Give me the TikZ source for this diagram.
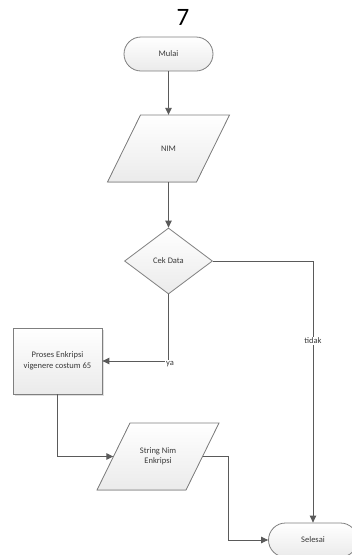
\documentclass[tikz,border=0pt]{standalone}
\usepackage{fontspec}
\setmainfont{Carlito}
\usetikzlibrary{arrows.meta,shapes.geometric,calc,shadows}
\definecolor{edgec}{HTML}{5A5A5A}
\definecolor{bordc}{HTML}{7F7F7F}
\definecolor{txtc}{HTML}{3A3A3A}
\begin{document}
\begin{tikzpicture}[x=1pt,y=-1pt,
  every node/.style={font=\fontsize{8.5}{10.5}\selectfont, text=txtc},
  shapefill/.style={top color=white, bottom color=gray!16, draw=bordc, line width=0.8pt},
  term/.style={shapefill, rectangle, rounded corners=17pt, minimum width=89pt, minimum height=34pt, inner sep=0pt},
  procbox/.style={shapefill, rectangle, minimum width=89pt, minimum height=66pt, inner sep=0pt, align=center, drop shadow={opacity=0.25, shadow xshift=1.5pt, shadow yshift=-1.5pt}},
  decide/.style={shapefill, diamond, minimum width=88pt, minimum height=66pt, inner sep=0pt},
  ioslot/.style={rectangle, minimum width=89pt, minimum height=67pt, inner sep=0pt, align=center},
  conn/.style={draw=edgec, line width=0.9pt, -{Triangle[length=7pt,width=6.5pt]}},
  line/.style={draw=edgec, line width=0.9pt},
  lbl/.style={fill=white, inner sep=1pt}
]
\useasboundingbox (0,0) rectangle (352,555);
\clip (0,0) rectangle (352,555);

\node[font=\fontsize{25}{28}\selectfont, text=black] (title) at (183,17) {7};

\node[term] (mulai) at (168.5,54) {Mulai};

% NIM parallelogram
\coordinate (nimc) at (168.5,148.5);
\filldraw[shapefill] ($(nimc)+(-28,-33.5)$) -- ($(nimc)+(61,-33.5)$) -- ($(nimc)+(28,33.5)$) -- ($(nimc)+(-61,33.5)$) -- cycle;
\node[ioslot] (nim) at (nimc) {NIM};

\node[decide] (cek) at (168.5,261) {Cek Data};

\node[procbox] (proses) at (57.5,361) {Proses Enkripsi\\vigenere costum 65};

% String Nim Enkripsi parallelogram
\coordinate (strc) at (158,456.5);
\filldraw[shapefill] ($(strc)+(-28,-33.5)$) -- ($(strc)+(61,-33.5)$) -- ($(strc)+(28,33.5)$) -- ($(strc)+(-61,33.5)$) -- cycle;
\node[ioslot] (str) at (strc) {String Nim\\Enkripsi};

\node[term] (selesai) at (313,540) {Selesai};

\coordinate (tk) at (313,261);
\coordinate (sk) at (228,456.5);
\coordinate (sk2) at (228,540);

\draw[conn] (mulai.south) -- (nim.north);
\draw[conn] (nim.south) -- (cek.north);
\draw[conn] (cek.south) -- (cek.south |- proses.east) -- (proses.east);
\node[lbl] (ya) at (170,364) {ya};
\draw[conn] (cek.east) -- (tk) -- (selesai.north);
\node[lbl] (tidak) at (313,341) {tidak};
\draw[conn] (proses.south) -- (proses.south |- str.west) -- (str.west);
\draw[conn] (str.east) -- (sk) -- (sk2) -- (selesai.west);
\end{tikzpicture}
\end{document}
